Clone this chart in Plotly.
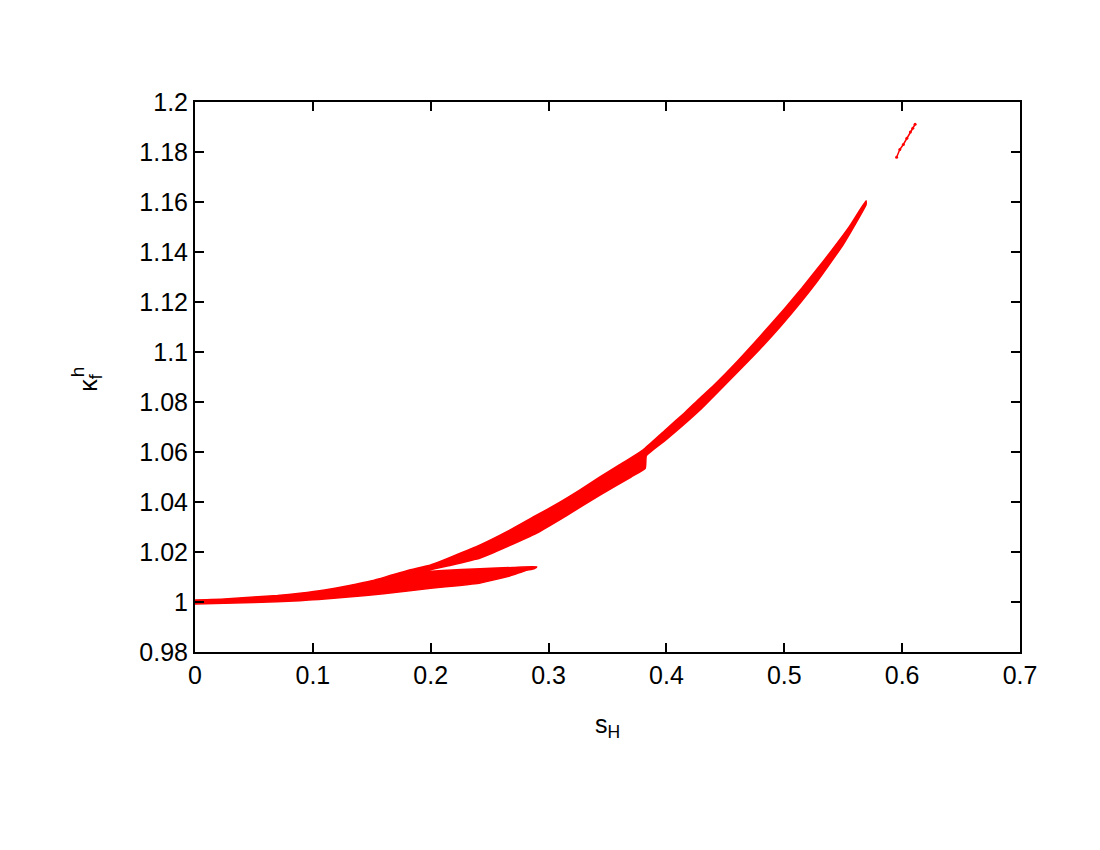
import plotly.graph_objects as go

# outline of the dense point cloud
# upper edge of the main band, left to right
top_s = [0.0, 0.025, 0.05, 0.07, 0.089, 0.11, 0.13, 0.15, 0.165, 0.182, 0.2, 0.22, 0.242,
         0.265, 0.287, 0.31, 0.3267, 0.3436, 0.36, 0.38, 0.4, 0.415, 0.4285, 0.44, 0.46,
         0.479, 0.5, 0.515, 0.5275, 0.54, 0.555, 0.5694]
top_k = [1.0008, 1.0012, 1.0020, 1.0026, 1.0035, 1.0048, 1.0065, 1.0085, 1.0105, 1.0128,
         1.0148, 1.0185, 1.0228, 1.0282, 1.0340, 1.0400, 1.0448, 1.0500, 1.0548, 1.0608,
         1.0692, 1.0755, 1.0816, 1.0866, 1.0962, 1.1060, 1.1172, 1.1256, 1.1330, 1.1405,
         1.1500, 1.1605]

# lower edge of the upper branch, right to left (back down to the fork)
branch_s = [0.5694, 0.55, 0.5275, 0.5, 0.479, 0.45, 0.4285, 0.4, 0.383, 0.382, 0.37,
            0.3436, 0.315, 0.29, 0.265, 0.242, 0.215, 0.191]
branch_k = [1.1590, 1.1430, 1.1280, 1.1120, 1.1010, 1.0870, 1.0768, 1.0650, 1.0585, 1.0535,
            1.0500, 1.0428, 1.0345, 1.0276, 1.0222, 1.0176, 1.0145, 1.0120]

# lower lobe: top edge out to the tip, then bottom edge back to s=0
lobe_s = [0.191, 0.21, 0.242, 0.27, 0.29, 0.288, 0.28, 0.267, 0.242, 0.22, 0.2, 0.182,
          0.16, 0.13, 0.11, 0.1, 0.089, 0.05, 0.0]
lobe_k = [1.0120, 1.0126, 1.0133, 1.0138, 1.0141, 1.0134, 1.0125, 1.0104, 1.0076, 1.0064,
          1.0055, 1.0045, 1.0033, 1.0020, 1.0012, 1.0009, 1.0005, 0.9998, 0.9992]

# the small detached segment near the top
tail_s = [0.5953, 0.598, 0.601, 0.604, 0.607, 0.609, 0.611]
tail_k = [1.1779, 1.1810, 1.1830, 1.1855, 1.1880, 1.1895, 1.1911]

x_ticks = [0, 0.1, 0.2, 0.3, 0.4, 0.5, 0.6, 0.7]
x_labels = ["0", "0.1", "0.2", "0.3", "0.4", "0.5", "0.6", "0.7"]
y_ticks = [0.98, 1.0, 1.02, 1.04, 1.06, 1.08, 1.1, 1.12, 1.14, 1.16, 1.18, 1.2]
y_labels = ["0.98", "1", "1.02", "1.04", "1.06", "1.08", "1.1", "1.12", "1.14", "1.16", "1.18", "1.2"]

red = "#ff0000"
fig = go.Figure()
fig.add_trace(go.Scatter(
    x=top_s + branch_s + lobe_s, y=top_k + branch_k + lobe_k,
    mode="lines", fill="toself", fillcolor=red,
    line=dict(color=red, width=1.5, shape="spline", smoothing=0.4),
    showlegend=False, hoverinfo="skip"
))
fig.add_trace(go.Scatter(
    x=tail_s, y=tail_k, mode="lines+markers",
    line=dict(color=red, width=1.5), marker=dict(color=red, size=3),
    showlegend=False
))

font = dict(family="Liberation Sans, Arial, sans-serif", size=25, color="black")
axis = dict(showline=True, linewidth=2, linecolor="black", mirror="ticks",
            ticks="inside", ticklen=9, tickwidth=1.5, tickcolor="black",
            showgrid=False, zeroline=False, tickfont=font)

fig.update_layout(
    width=1100, height=850,
    margin=dict(l=187, r=88, t=94, b=206),
    paper_bgcolor="white", plot_bgcolor="white",
    font=font,
    xaxis=dict(axis, range=[0, 0.7], tickvals=x_ticks, ticktext=x_labels,
               title=dict(text="s<sub>H</sub>", font=font, standoff=27)),
    yaxis=dict(axis, range=[0.98, 1.2], tickvals=y_ticks, ticktext=y_labels),
)
# y label: kappa with subscript f and the superscript h stacked above it
fig.add_annotation(text="κ<sub>f</sub>", xref="paper", yref="paper", x=-0.150, y=0.49,
                   showarrow=False, textangle=-90, font=font)
fig.add_annotation(text="h", xref="paper", yref="paper", x=-0.158, y=0.509,
                   showarrow=False, textangle=-90, font=dict(font, size=19))

fig.write_html("out.html")
